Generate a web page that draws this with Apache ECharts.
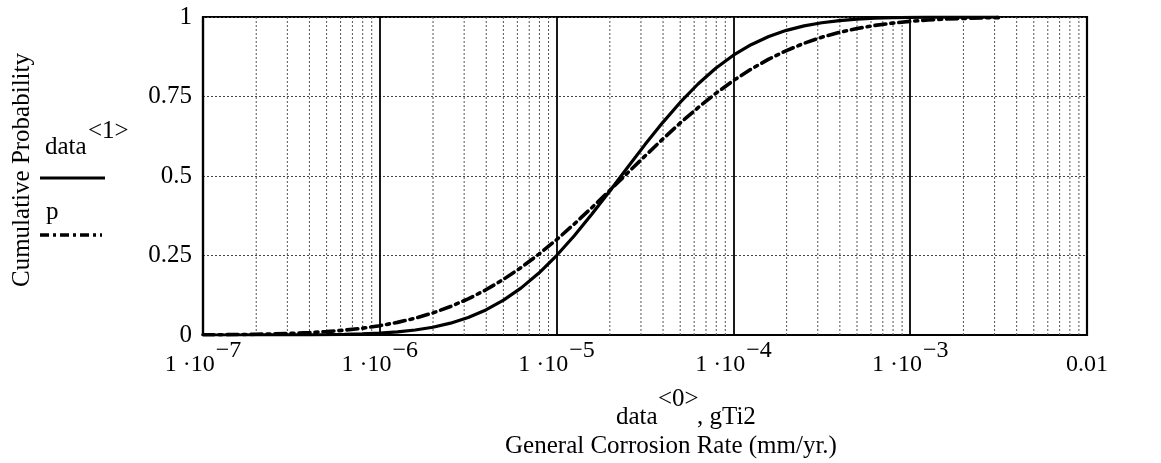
<!DOCTYPE html>
<html>
<head>
<meta charset="utf-8">
<script src="https://cdn.jsdelivr.net/npm/echarts@6/dist/echarts.min.js"></script>
<style>
html,body{margin:0;padding:0;background:#fff;}
#c{width:1161px;height:463px;}
</style>
</head>
<body>
<div id="c"></div>
<script>
// log10 of corrosion rate (mm/yr) at which the curves were read
const logRate = [-7.0, -6.9, -6.8, -6.7, -6.6, -6.5, -6.4, -6.3, -6.2, -6.1,
                 -6.0, -5.9, -5.8, -5.7, -5.6, -5.5, -5.4, -5.3, -5.2, -5.1,
                 -5.0, -4.9, -4.8, -4.7, -4.6, -4.5, -4.4, -4.3, -4.2, -4.1,
                 -4.0, -3.9, -3.8, -3.7, -3.6, -3.5, -3.4, -3.3, -3.2, -3.1,
                 -3.0, -2.9, -2.8, -2.7, -2.6, -2.5];
// cumulative probability, series data<1> (solid)
const dataCum = [0.0000, 0.0000, 0.0000, 0.0001, 0.0001, 0.0003, 0.0006, 0.0010, 0.0019, 0.0034,
                 0.0058, 0.0097, 0.0157, 0.0245, 0.0372, 0.0549, 0.0787, 0.1095, 0.1482, 0.1949,
                 0.2499, 0.3121, 0.3802, 0.4522, 0.5259, 0.5987, 0.6679, 0.7320, 0.7893, 0.8387,
                 0.8798, 0.9129, 0.9386, 0.9580, 0.9721, 0.9820, 0.9888, 0.9932, 0.9960, 0.9977,
                 0.9987, 0.9993, 0.9997, 0.9998, 0.9999, 1.0000];
// cumulative probability, series p (dash-dot)
const pCum = [0.0006, 0.0009, 0.0014, 0.0022, 0.0034, 0.0050, 0.0074, 0.0107, 0.0152, 0.0213,
              0.0293, 0.0397, 0.0529, 0.0693, 0.0895, 0.1135, 0.1421, 0.1751, 0.2124, 0.2543,
              0.2998, 0.3490, 0.4009, 0.4542, 0.5088, 0.5628, 0.6160, 0.6671, 0.7150, 0.7596,
              0.8001, 0.8360, 0.8676, 0.8945, 0.9174, 0.9364, 0.9516, 0.9639, 0.9735, 0.9808,
              0.9864, 0.9905, 0.9934, 0.9956, 0.9971, 0.9981];
// x tick exponents and y tick labels
const xTickExponents = [-7, -6, -5, -4, -3, -2];
const yTickLabels = ['0', '0.25', '0.5', '0.75', '1'];
// minor gridline multipliers within each decade
const minorMult = [2, 3, 4, 5, 6, 7, 8, 9];

const FONT = '"Liberation Serif", "DejaVu Serif", serif';

const solidData = logRate.map((e, i) => [Math.pow(10, e), dataCum[i]]);
const pData = logRate.map((e, i) => [Math.pow(10, e), pCum[i]]);

const minorX = [];
xTickExponents.slice(0, -1).forEach(e => {
  minorMult.forEach(m => minorX.push([m * Math.pow(10, e), 0]));
});

const chart = echarts.init(document.getElementById('c'), null, { renderer: 'canvas' });
chart.setOption({
  backgroundColor: '#fff',
  animation: false,
  grid: { left: 203, right: 74, top: 17, bottom: 128, show: true, borderColor: '#000', borderWidth: 2.2, backgroundColor: 'transparent' },
  xAxis: {
    type: 'log', logBase: 10, min: 1e-7, max: 1e-2,
    axisLine: { show: true, lineStyle: { color: '#000', width: 2.2 } },
    axisTick: { show: false },
    splitLine: { show: true, lineStyle: { color: '#000', width: 1.8, type: 'solid' } },
    axisLabel: {
      margin: 10,
      color: '#000',
      fontFamily: FONT,
      formatter: function (v) {
        const e = Math.round(Math.log10(v));
        if (xTickExponents.indexOf(e) < 0) return '';
        if (e === -2) return '{b|0.01}';
        return '{b|1 ·10}{s|−' + (-e) + '}';
      },
      rich: {
        b: { fontSize: 24, fontFamily: FONT, color: '#000', padding: [14, 0, 0, 0], lineHeight: 26 },
        s: { fontSize: 24, fontFamily: FONT, color: '#000', padding: [0, 0, 14, 1], lineHeight: 26 }
      }
    }
  },
  yAxis: {
    type: 'value', min: 0, max: 1, interval: 0.25,
    axisLine: { show: true, lineStyle: { color: '#000', width: 2.2 } },
    axisTick: { show: false },
    splitLine: { show: true, lineStyle: { color: '#444', width: 1, type: [2, 2] } },
    axisLabel: {
      margin: 11, color: '#000', fontFamily: FONT, fontSize: 25, padding: [12, 0, 0, 0],
      formatter: function (v) { return yTickLabels[Math.round(v / 0.25)]; }
    }
  },
  series: [
    {
      name: 'minor grid', type: 'custom', data: minorX, silent: true, z: 1,
      encode: { x: 0, y: 1 },
      renderItem: function (params, api) {
        const x = api.value(0);
        const p0 = api.coord([x, 0]);
        const p1 = api.coord([x, 1]);
        return {
          type: 'line',
          shape: { x1: p0[0], y1: p0[1], x2: p1[0], y2: p1[1] },
          style: { stroke: '#555', lineWidth: 1, lineDash: [2, 2] }
        };
      }
    },
    {
      name: 'data<1>', type: 'line', data: solidData, symbol: 'none',
      lineStyle: { color: '#000', width: 3.2, type: 'solid' }, z: 5
    },
    {
      name: 'p', type: 'line', data: pData, symbol: 'none',
      lineStyle: { color: '#000', width: 3.6, type: [11, 5, 3, 5], cap: 'round' }, z: 5
    }
  ],
  graphic: [
    { type: 'text', x: 22, y: 170, rotation: Math.PI / 2,
      style: { text: 'Cumulative Probability', font: '25px ' + FONT, fill: '#000', textAlign: 'center', textVerticalAlign: 'middle' } },
    { type: 'text', x: 45, y: 147,
      style: { text: 'data', font: '25px ' + FONT, fill: '#000', textAlign: 'left', textVerticalAlign: 'middle' } },
    { type: 'text', x: 88, y: 131,
      style: { text: '<1>', font: '25px ' + FONT, fill: '#000', textAlign: 'left', textVerticalAlign: 'middle' } },
    { type: 'line', shape: { x1: 40, y1: 178, x2: 105, y2: 178 }, style: { stroke: '#000', lineWidth: 3 } },
    { type: 'text', x: 46, y: 212,
      style: { text: 'p', font: '25px ' + FONT, fill: '#000', textAlign: 'left', textVerticalAlign: 'middle' } },
    { type: 'line', shape: { x1: 40, y1: 235, x2: 102, y2: 235 }, style: { stroke: '#000', lineWidth: 3.5, lineDash: [9, 4, 3, 4] } },
    { type: 'text', x: 616, y: 417,
      style: { text: 'data', font: '25px ' + FONT, fill: '#000', textAlign: 'left', textVerticalAlign: 'middle' } },
    { type: 'text', x: 658, y: 399,
      style: { text: '<0>', font: '25px ' + FONT, fill: '#000', textAlign: 'left', textVerticalAlign: 'middle' } },
    { type: 'text', x: 697, y: 417,
      style: { text: ', gTi2', font: '25px ' + FONT, fill: '#000', textAlign: 'left', textVerticalAlign: 'middle' } },
    { type: 'text', x: 671, y: 446,
      style: { text: 'General Corrosion Rate (mm/yr.)', font: '25px ' + FONT, fill: '#000', textAlign: 'center', textVerticalAlign: 'middle' } }
  ]
});
</script>
</body>
</html>
